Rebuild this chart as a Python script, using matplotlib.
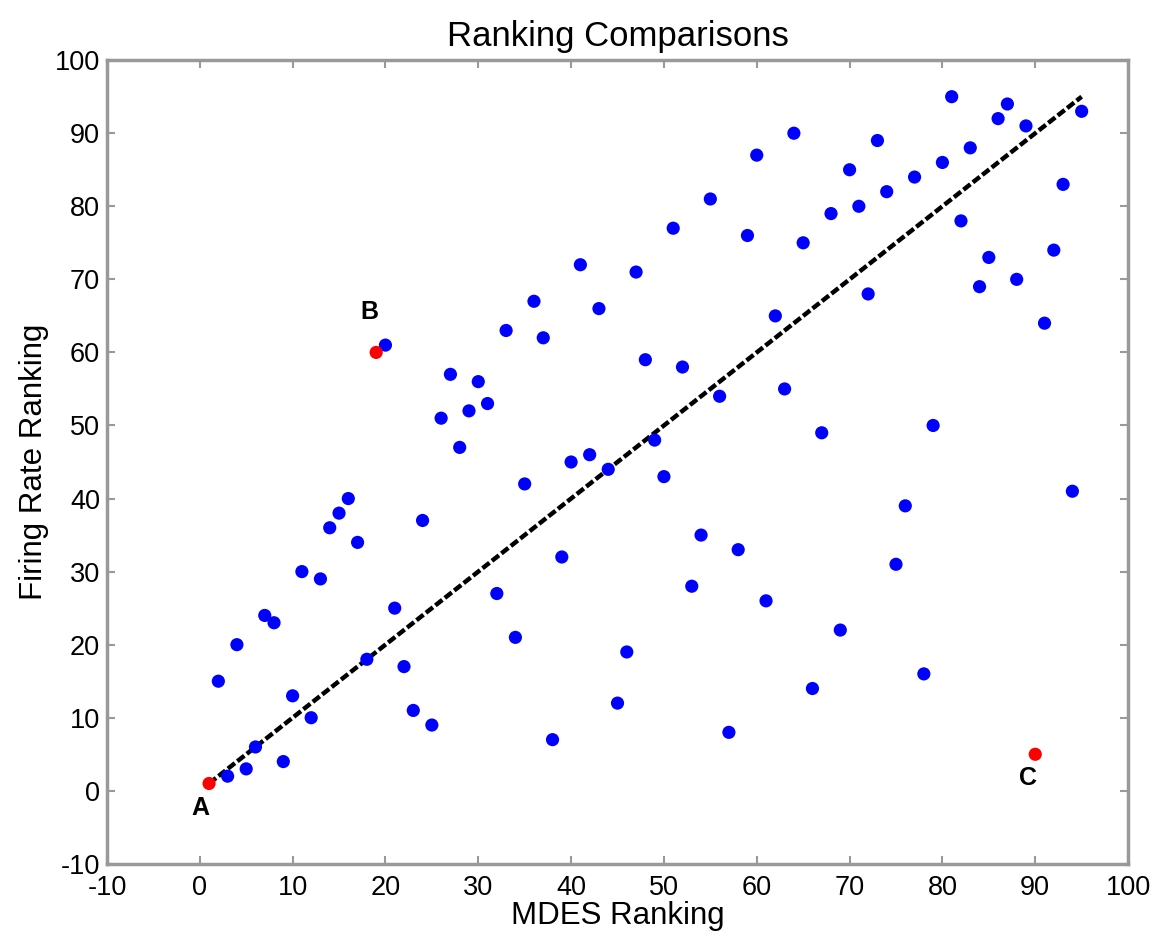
import numpy as np
import matplotlib
matplotlib.use('Agg')
from matplotlib import pyplot as plt

plt.rcParams['font.family'] = ['Liberation Sans', 'DejaVu Sans']
plt.rcParams['axes.unicode_minus'] = False

# MDES rank vs firing rate rank for each unit
mdes_rank = [2, 3, 4, 5, 6, 7, 8, 9, 10, 11, 12, 13, 14, 15, 16, 17, 18, 20,
             21, 22, 23, 24, 25, 26, 27, 28, 29, 30, 31, 32, 33, 34, 35, 36,
             37, 38, 39, 40, 41, 42, 43, 44, 45, 46, 47, 48, 49, 50, 51, 52,
             53, 54, 55, 56, 57, 58, 59, 60, 61, 62, 63, 64, 65, 66, 67, 68,
             69, 70, 71, 72, 73, 74, 75, 76, 77, 78, 79, 80, 81, 82, 83, 84,
             85, 86, 87, 88, 89, 91, 92, 93, 94, 95]
fr_rank = [15, 2, 20, 3, 6, 24, 23, 4, 13, 30, 10, 29, 36, 38, 40, 34, 18, 61,
           25, 17, 11, 37, 9, 51, 57, 47, 52, 56, 53, 27, 63, 21, 42, 67,
           62, 7, 32, 45, 72, 46, 66, 44, 12, 19, 71, 59, 48, 43, 77, 58,
           28, 35, 81, 54, 8, 33, 76, 87, 26, 65, 55, 90, 75, 14, 49, 79,
           22, 85, 80, 68, 89, 82, 31, 39, 84, 16, 50, 86, 95, 78, 88, 69,
           73, 92, 94, 70, 91, 64, 74, 83, 41, 93]

# highlighted units
hl_labels = ['A', 'B', 'C']
hl_mdes = [1, 19, 90]
hl_fr = [1, 60, 5]

fig = plt.figure(figsize=(11.65, 9.4), dpi=100)
ax = fig.add_axes([0.0918, 0.081, 0.8765, 0.855])

n = len(mdes_rank) + len(hl_mdes)
ax.plot([1, n], [1, n], color='black', linestyle=(0, (2.0, 0.7)), linewidth=3.2, zorder=1)
ax.scatter(mdes_rank, fr_rank, s=90, color='#0000ff', edgecolors='none', zorder=2)
ax.scatter(hl_mdes, hl_fr, s=90, color='#ff0000', edgecolors='none', zorder=3)

offsets = [(-0.9, -3.3), (-0.7, 5.5), (-0.8, -3.2)]
for lab, x, y, (dx, dy) in zip(hl_labels, hl_mdes, hl_fr, offsets):
    ax.text(x + dx, y + dy, lab, fontsize=18, fontweight='bold',
            ha='center', va='center')

ax.set_xlim(-10, 100)
ax.set_ylim(-10, 100)
ax.set_xticks(np.arange(-10, 101, 10))
ax.set_yticks(np.arange(-10, 101, 10))
ax.tick_params(direction='in', length=6, width=1.5, color='#999999',
               labelsize=19.5, top=True, right=True, pad=5)
ax.tick_params(axis='x', pad=8)
for sp in ax.spines.values():
    sp.set_color('#999999')
    sp.set_linewidth(2.5)

ax.set_title('Ranking Comparisons', fontsize=25, pad=10)
ax.set_xlabel('MDES Ranking', fontsize=22.5, labelpad=0)
ax.set_ylabel('Firing Rate Ranking', fontsize=22.5, labelpad=4)

plt.savefig('out.png', dpi=100)
